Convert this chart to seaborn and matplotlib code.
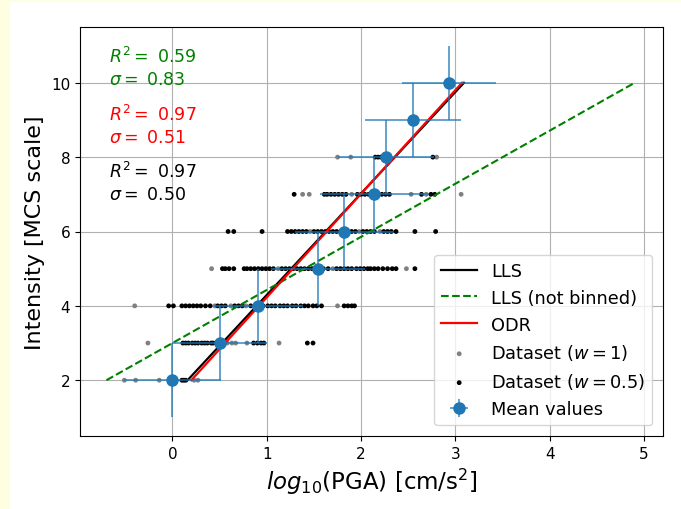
import numpy as np
import pandas as pd
import seaborn as sns
import matplotlib
matplotlib.use("Agg")
import matplotlib.pyplot as plt
from matplotlib.patches import Rectangle

# ---------------- data ----------------
# Dataset points, weight w = 1 (gray), per intensity row
gray_2 = [-0.51, -0.39, -0.14, 0.23, 0.27]
gray_3 = [-0.26, 0.53, 0.58, 0.63, 0.67, 0.79, 1.13]
gray_4 = [-0.40, 0.45, 0.62, 0.78, 1.75]
gray_5 = [0.415, 1.12, 1.70, 2.48]
gray_6 = [1.46, 1.98, 2.20]
gray_7 = [1.38, 1.45, 1.90, 2.53, 2.69, 3.06]
gray_8 = [1.75, 1.89, 2.80]

# Dataset points, weight w = 0.5 (black), per intensity row
black_2 = [0.10, 0.12, 0.14]
black_3 = [0.11, 0.14, 0.17, 0.21, 0.24, 0.27, 0.31, 0.34, 0.37, 0.41, 0.43, 0.46,
           0.86, 0.90, 0.94, 0.97, 1.43, 1.49]
black_4 = [-0.04, 0.01, 0.10, 0.14, 0.18, 0.22, 0.26, 0.30, 0.35, 0.40, 0.48, 0.52,
           0.56, 0.66, 0.70, 0.74, 0.83, 0.88, 0.92, 0.96, 1.01, 1.05, 1.09, 1.14,
           1.18, 1.22, 1.27, 1.31, 1.36, 1.40, 1.44, 1.49, 1.53, 1.58, 1.82, 1.86,
           1.90, 1.93]
black_5 = [0.53, 0.56, 0.60, 0.65, 0.76, 0.79, 0.83, 0.87, 0.91, 0.95, 0.99, 1.03,
           1.07, 1.16, 1.20, 1.24, 1.28, 1.32, 1.36, 1.40, 1.44, 1.48, 1.52, 1.56,
           1.60, 1.65, 1.74, 1.78, 1.82, 1.86, 1.90, 1.95, 1.99, 2.03, 2.07, 2.10,
           2.14, 2.18, 2.23, 2.28, 2.33, 2.37, 2.57]
black_6 = [0.59, 0.65, 0.95, 1.22, 1.26, 1.30, 1.34, 1.38, 1.42, 1.50, 1.54, 1.58,
           1.62, 1.66, 1.70, 1.74, 1.78, 1.86, 1.90, 1.94, 2.02, 2.06, 2.10, 2.14,
           2.24, 2.28, 2.32, 2.37, 2.57, 2.79]
black_7 = [1.29, 1.61, 1.64, 1.68, 1.72, 1.76, 1.80, 1.84, 1.96, 2.00, 2.04, 2.08,
           2.12, 2.18, 2.22, 2.26, 2.30, 2.64, 2.74, 2.78]
black_8 = [2.15, 2.18, 2.21, 2.76]

# Binned mean values with error bars
mean_x = [0.00, 0.50, 0.91, 1.54, 1.82, 2.14, 2.26, 2.55, 2.93]
mean_y = [2, 3, 4, 5, 6, 7, 8, 9, 10]
mean_xerr = [0.51, 0.50, 0.47, 0.50, 0.52, 0.58, 0.51, 0.51, 0.50]
mean_yerr = [1, 1, 1, 1, 1, 1, 1, 1, 1]

# Regression lines (endpoints)
lls_x = [0.16, 3.09]
lls_y = [2, 10]
lls_nb_x = [-0.70, 4.90]
lls_nb_y = [2, 10]
odr_x = [0.20, 3.07]
odr_y = [2, 10]

# Fit statistics
stats = [("0.59", "0.83", "green"), ("0.97", "0.51", "red"), ("0.97", "0.50", "black")]

# ---------------- build frames ----------------
def rows(d):
    xs, ys = [], []
    for inten, vals in d.items():
        xs += vals
        ys += [inten] * len(vals)
    return pd.DataFrame({"x": xs, "y": ys})

df_gray = rows({2: gray_2, 3: gray_3, 4: gray_4, 5: gray_5, 6: gray_6, 7: gray_7, 8: gray_8})
df_black = rows({2: black_2, 3: black_3, 4: black_4, 5: black_5, 6: black_6, 7: black_7, 8: black_8})

# ---------------- plot ----------------
fig = plt.figure(figsize=(6.81, 5.10), dpi=100)
fig.patch.set_facecolor("white")
fig.patches.append(Rectangle((0, 0), 10 / 681, 1, transform=fig.transFigure,
                             facecolor="#fefee0", edgecolor="none", zorder=0))
fig.patches.append(Rectangle((0, 1 - 3 / 510), 1, 3 / 510, transform=fig.transFigure,
                             facecolor="#fefee0", edgecolor="none", zorder=0))
ax = fig.add_axes([80 / 681, 1 - 437 / 510, (663 - 80) / 681, (437 - 28) / 510])

sns.lineplot(x=lls_x, y=lls_y, color="black", lw=1.6, label="LLS", ax=ax, sort=False)
sns.lineplot(x=lls_nb_x, y=lls_nb_y, color="green", lw=1.5, linestyle="--",
             label="LLS (not binned)", ax=ax, sort=False)
sns.lineplot(x=odr_x, y=odr_y, color="red", lw=1.6, label="ODR", ax=ax, sort=False)

sns.scatterplot(data=df_gray, x="x", y="y", color="gray", s=12, edgecolor="none",
                label="Dataset ($w=1$)", ax=ax)
sns.scatterplot(data=df_black, x="x", y="y", color="black", s=12, edgecolor="none",
                label="Dataset ($w=0.5$)", ax=ax)

ax.errorbar(mean_x, mean_y, xerr=mean_xerr, yerr=mean_yerr, fmt="o", color="C0",
            ecolor=(0.12, 0.47, 0.71, 0.75), ms=8, elinewidth=1.3,
            label="Mean values", zorder=3)

# stats text
ys_text = [(0.929, 0.873), (0.787, 0.731), (0.648, 0.592)]
for (r2, sig, col), (y1, y2) in zip(stats, ys_text):
    ax.text(0.05, y1, "$R^2=$ " + r2, color=col, fontsize=12.5, transform=ax.transAxes, va="center")
    ax.text(0.05, y2, r"$\sigma=$ " + sig, color=col, fontsize=12.5, transform=ax.transAxes, va="center")

ax.set_xlim(-0.98, 5.2)
ax.set_ylim(0.5, 11.5)
ax.set_xticks([0, 1, 2, 3, 4, 5])
ax.set_yticks([2, 4, 6, 8, 10])
ax.tick_params(labelsize=11)
ax.grid(True, color="#b0b0b0", lw=0.8)
ax.set_axisbelow(True)
ax.set_xlabel("$log_{10}$(PGA) [cm/s$^2$]", fontsize=16.5)
ax.set_ylabel("Intensity [MCS scale]", fontsize=16)
ax.legend(loc="lower right", fontsize=12.8, borderaxespad=0.6)

fig.savefig("out.png", dpi=100, facecolor=fig.get_facecolor())
